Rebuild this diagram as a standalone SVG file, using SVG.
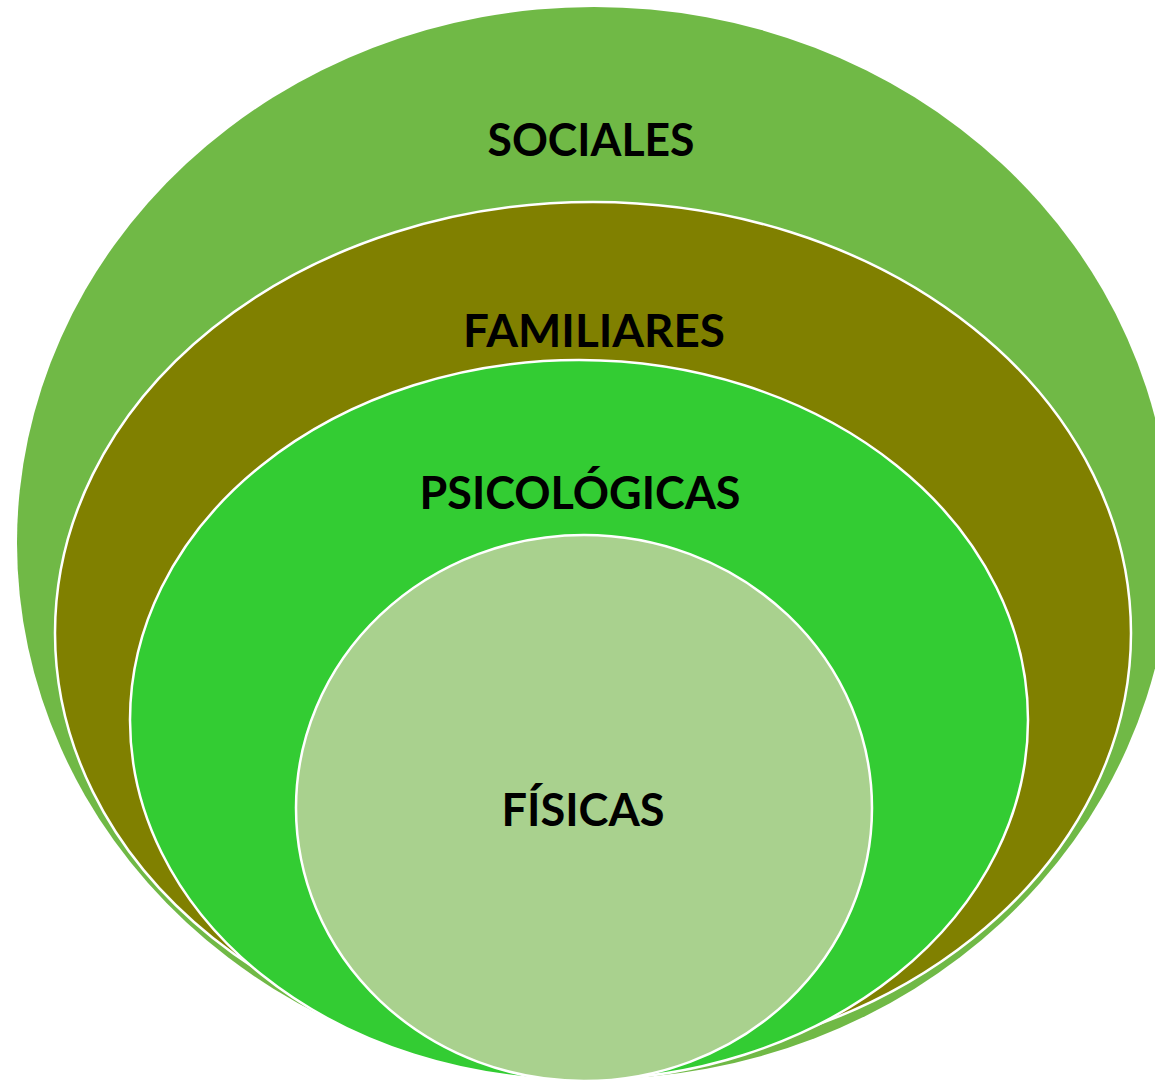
<svg xmlns="http://www.w3.org/2000/svg" width="1155" height="1081" viewBox="0 0 1155 1081">
<style>
.ring{stroke:#FFFFFF;stroke-width:2.5}
.lbl{font-family:Lato,"Liberation Sans",sans-serif;font-weight:bold;font-size:46px;fill:#000000;text-anchor:middle}
</style>
<rect width="1155" height="1081" fill="#FFFFFF"/>
<g id="sociales">
<ellipse cx="594" cy="543" rx="577" ry="536" fill="#70B946"/>
<text class="lbl" x="591" y="156" textLength="207" lengthAdjust="spacingAndGlyphs">SOCIALES</text>
</g>
<g id="familiares">
<ellipse class="ring" cx="593" cy="633" rx="538" ry="431" fill="#808000"/>
<text class="lbl" x="594" y="347" textLength="262" lengthAdjust="spacingAndGlyphs">FAMILIARES</text>
</g>
<g id="psicologicas">
<ellipse class="ring" cx="579" cy="720" rx="449" ry="360" fill="#33CC33"/>
<text class="lbl" x="580" y="509" textLength="321" lengthAdjust="spacingAndGlyphs">PSICOLÓGICAS</text>
</g>
<g id="fisicas">
<ellipse class="ring" cx="584" cy="808" rx="288" ry="273" fill="#A9D18E"/>
<text class="lbl" x="583" y="826" textLength="163" lengthAdjust="spacingAndGlyphs">FÍSICAS</text>
</g>
<g id="connectors"/>
</svg>
